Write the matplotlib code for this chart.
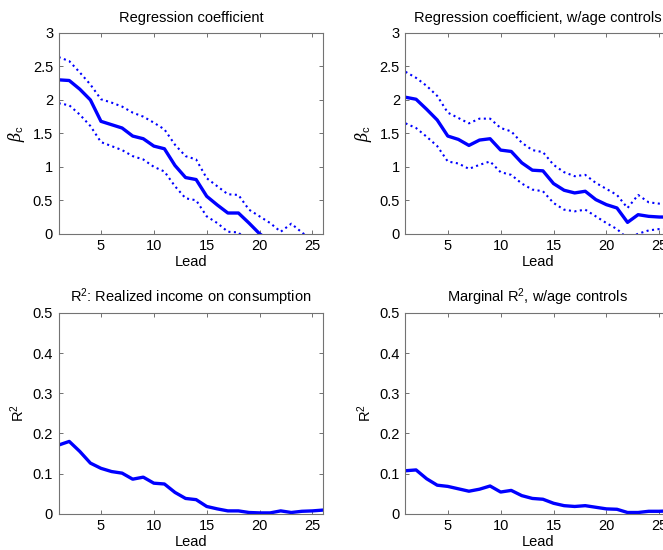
import numpy as np
import matplotlib
matplotlib.use("Agg")
import matplotlib.pyplot as plt

plt.rcParams['font.family'] = ['Liberation Sans', 'DejaVu Sans']
plt.rcParams['mathtext.fontset'] = 'custom'
plt.rcParams['mathtext.rm'] = 'Liberation Sans'
plt.rcParams['mathtext.it'] = 'DejaVu Serif:italic'

lead = np.arange(1, 27)

# regression coefficient, no controls
beta = [2.30, 2.29, 2.16, 2.00, 1.68, 1.63, 1.58, 1.46, 1.42, 1.31, 1.27, 1.02, 0.84,
        0.81, 0.56, 0.43, 0.31, 0.31, 0.16, 0.00, -0.12, -0.22, -0.18, -0.25, -0.30, -0.32]
beta_hi = [2.64, 2.58, 2.41, 2.23, 2.01, 1.96, 1.90, 1.81, 1.75, 1.66, 1.56, 1.33, 1.16,
           1.11, 0.83, 0.71, 0.59, 0.58, 0.36, 0.26, 0.16, 0.03, 0.15, 0.02, -0.10, -0.15]
beta_lo = [1.95, 1.92, 1.78, 1.61, 1.37, 1.31, 1.25, 1.16, 1.11, 1.00, 0.93, 0.71, 0.53,
           0.50, 0.26, 0.16, 0.03, 0.02, -0.14, -0.26, -0.40, -0.47, -0.50, -0.52, -0.50, -0.50]

# regression coefficient with age controls
beta_age = [2.04, 2.01, 1.86, 1.70, 1.46, 1.41, 1.32, 1.40, 1.42, 1.25, 1.23, 1.06, 0.95,
            0.94, 0.75, 0.65, 0.61, 0.635, 0.51, 0.435, 0.385, 0.17, 0.285, 0.26, 0.25, 0.25]
beta_age_hi = [2.42, 2.33, 2.21, 2.06, 1.81, 1.73, 1.65, 1.72, 1.72, 1.58, 1.53, 1.36, 1.25,
               1.22, 1.03, 0.92, 0.86, 0.88, 0.76, 0.67, 0.58, 0.385, 0.58, 0.47, 0.45, 0.44]
beta_age_lo = [1.65, 1.58, 1.45, 1.31, 1.08, 1.05, 0.97, 1.03, 1.08, 0.92, 0.88, 0.75, 0.66,
               0.635, 0.46, 0.36, 0.335, 0.36, 0.26, 0.16, 0.07, -0.07, 0.0, 0.05, 0.07, 0.07]

# R^2
r2 = [0.171, 0.180, 0.155, 0.126, 0.113, 0.105, 0.101, 0.086, 0.091, 0.076, 0.074, 0.053, 0.038,
      0.035, 0.018, 0.012, 0.007, 0.007, 0.003, 0.002, 0.002, 0.007, 0.003, 0.006, 0.007, 0.009]
r2_age = [0.107, 0.109, 0.087, 0.071, 0.068, 0.062, 0.056, 0.061, 0.069, 0.054, 0.058, 0.045, 0.038,
          0.036, 0.026, 0.020, 0.018, 0.020, 0.016, 0.012, 0.011, 0.003, 0.003, 0.006, 0.006, 0.007]

fig = plt.figure(figsize=(6.63, 5.5), dpi=100)

W, H = 0.3987, 0.365
positions = [(0.0885, 0.575), (0.6116, 0.575), (0.0885, 0.066), (0.6116, 0.066)]
titles = ['Regression coefficient', 'Regression coefficient, w/age controls',
          r'R$^2$: Realized income on consumption', r'Marginal R$^2$, w/age controls']

blue = (0, 0, 1)
fs = 10.5
axes = []
for (x0, y0), title in zip(positions, titles):
    ax = fig.add_axes([x0, y0, W, H])
    ax.set_xlim(1, 26)
    ax.set_xticks([5, 10, 15, 20, 25])
    ax.set_title(title, fontsize=fs, pad=8)
    ax.set_xlabel('Lead', fontsize=fs, labelpad=1)
    ax.tick_params(direction='in', top=True, right=True, length=3, width=0.6,
                   labelsize=fs, colors='0.35', labelcolor='black', pad=4)
    for s in ax.spines.values():
        s.set_color('0.45')
        s.set_linewidth(0.8)
    axes.append(ax)

ax1, ax2, ax3, ax4 = axes

for ax, m, hi, lo in [(ax1, beta, beta_hi, beta_lo), (ax2, beta_age, beta_age_hi, beta_age_lo)]:
    ax.plot(lead, hi, ':', color=blue, lw=1.5)
    ax.plot(lead, lo, ':', color=blue, lw=1.5)
    ax.plot(lead, m, '-', color=blue, lw=2.4)
    ax.set_ylim(0, 3)
    ax.set_yticks([0, 0.5, 1, 1.5, 2, 2.5, 3])
    ax.set_yticklabels(['0', '0.5', '1', '1.5', '2', '2.5', '3'])
    ax.set_ylabel(r'$\beta_\mathrm{c}$', fontsize=11.5, labelpad=4)

for ax, r in [(ax3, r2), (ax4, r2_age)]:
    ax.plot(lead, r, '-', color=blue, lw=2.4)
    ax.set_ylim(0, 0.5)
    ax.set_yticks([0, 0.1, 0.2, 0.3, 0.4, 0.5])
    ax.set_yticklabels(['0', '0.1', '0.2', '0.3', '0.4', '0.5'])
    ax.set_ylabel(r'R$^2$', fontsize=fs, labelpad=4)

fig.savefig('out.png', dpi=100)
